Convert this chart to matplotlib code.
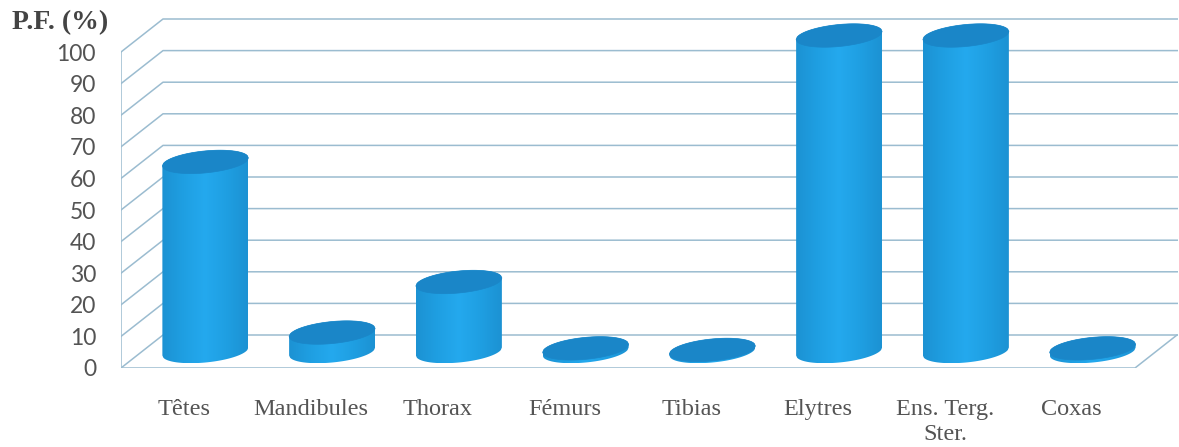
import numpy as np
import matplotlib
matplotlib.use('Agg')
import matplotlib.pyplot as plt
from matplotlib.colors import LinearSegmentedColormap
from matplotlib.patches import Polygon

categories = ['Têtes', 'Mandibules', 'Thorax', 'Fémurs', 'Tibias', 'Elytres', 'Ens. Terg.\nSter.', 'Coxas']
values = [60, 6, 22, 1, 0.5, 100, 100, 1]
yticks = [0, 10, 20, 30, 40, 50, 60, 70, 80, 90, 100]

W, H = 1179, 447
left, bottom = 121, 368      # pixel position of the front corner
px_x = 126.75                # pixels per category
px_y = 3.16                  # pixels per percent
depth_x = 42 / px_x          # 3d depth of the floor in data units
depth_y = 33 / px_y
xmax, ymax = 8.34, 111

grid_color = '#9bbcd0'
text_color = '#545454'
cyl_cmap = LinearSegmentedColormap.from_list('cyl', ['#1c92d3', '#1f9fe2', '#24a9ee', '#1f9fe2', '#1c92d3'])
top_color = '#1a86c8'

fig = plt.figure(figsize=(W / 100, H / 100), dpi=100)
ax = fig.add_axes([left / W, (H - bottom) / H, xmax * px_x / W, ymax * px_y / H])
ax.set_xlim(0, xmax)
ax.set_ylim(0, ymax)
for s in ax.spines.values():
    s.set_visible(False)

# walls and floor
for v in yticks:
    ax.plot([0, depth_x, xmax], [v, v + depth_y, v + depth_y], color=grid_color, lw=1.1, zorder=1)
ax.plot([0, 0], [0, 100], color=grid_color, lw=1.1, zorder=1)
ax.plot([0, 8, 8 + depth_x], [0, 0, depth_y], color=grid_color, lw=1.1, zorder=1)

# cylinder edge, slanted ellipse in data units
a = 43 / px_x
b = 11 / px_y
slant = 4 / px_y
t = np.linspace(-1, 1, 80)

def upper(cx, cy):
    return cx + a * t, cy + slant * t + b * np.sqrt(1 - t ** 2)

def lower(cx, cy):
    return cx + a * t, cy + slant * t - b * np.sqrt(1 - t ** 2)

for i, v in enumerate(values):
    cx = i + 0.5 + depth_x / 2
    y0 = depth_y / 2
    y1 = v + depth_y / 2
    xl, yl = lower(cx, y0)
    xu, yu = upper(cx, y1)
    xs = np.concatenate([xl, xu[::-1]])
    ys = np.concatenate([yl, yu[::-1]])
    body = Polygon(np.column_stack([xs, ys]), closed=True, fc='none', ec='none', zorder=2)
    ax.add_patch(body)
    im = ax.imshow(np.linspace(0, 1, 128)[None, :], cmap=cyl_cmap, aspect='auto', zorder=3,
                   extent=[cx - a, cx + a, ys.min(), ys.max()])
    im.set_clip_path(body)
    xl2, yl2 = lower(cx, y1)
    top = np.column_stack([np.concatenate([xu, xl2[::-1]]), np.concatenate([yu, yl2[::-1]])])
    ax.add_patch(Polygon(top, closed=True, fc=top_color, ec=top_color, lw=0.5, zorder=4))

ax.set_xlim(0, xmax)
ax.set_ylim(0, ymax)

ax.set_yticks(yticks)
ax.set_yticklabels([str(v) for v in yticks], fontfamily='Lato', fontsize=16.5, color=text_color)
ax.tick_params(axis='y', length=0, pad=18)
ax.set_xticks(np.arange(8) + 0.5)
ax.set_xticklabels(categories, fontfamily='Liberation Serif', fontsize=17.5, color=text_color, linespacing=1.25)
ax.tick_params(axis='x', length=0, pad=22)

fig.text(12 / W, 1 - 23 / H, 'P.F. (%)', fontfamily='Liberation Serif', fontweight='bold', fontsize=20,
         color='#444444', va='center', ha='left')

fig.savefig('out.png', dpi=100)
